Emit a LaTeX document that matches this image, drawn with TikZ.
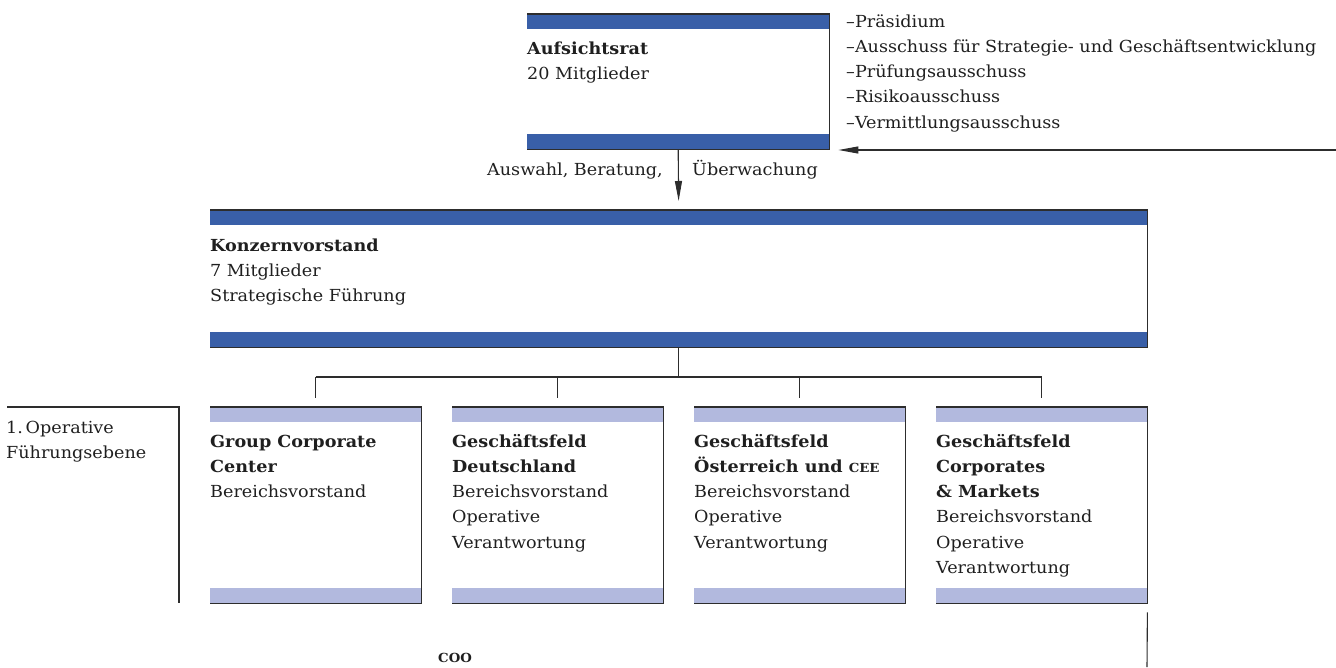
\documentclass[tikz,border=0pt]{standalone}
\usepackage{fontspec}
\setmainfont[FakeStretch=1.06]{DejaVu Serif}
\usetikzlibrary{arrows.meta}
\definecolor{dblue}{RGB}{57,95,168}
\definecolor{lblue}{RGB}{178,185,222}
\definecolor{frm}{RGB}{45,45,45}
\newcommand\orgframe[2]{%
  \fill[#2] (#1.north west) rectangle ([yshift=-15pt]#1.north east);
  \fill[#2] ([yshift=15pt]#1.south west) rectangle (#1.south east);
  \draw[frameline] (#1.north west) -- (#1.north east) -- (#1.south east) -- (#1.south west);}
\begin{document}
\begin{tikzpicture}[x=1pt,y=-1pt,
  font=\fontsize{16.6}{25.3}\selectfont,
  boxshape/.style={rectangle, inner sep=0pt, anchor=north west},
  smallbox/.style={boxshape, minimum width=211pt, minimum height=196pt},
  txt/.style={anchor=base west, inner sep=0pt, align=left, text=black!88},
  frameline/.style={draw=frm, line width=1.3pt},
  conn/.style={draw=frm, line width=1.1pt},
  arr/.style={draw=frm, line width=1.1pt, -{Triangle[length=20pt,width=7pt]}}]
\useasboundingbox (0,0) rectangle (1336,667);

% boxes
\node[boxshape, minimum width=302pt, minimum height=135pt] (ar) at (527,14) {};
\node[boxshape, minimum width=937pt, minimum height=137pt] (kv) at (210,210) {};
\node[smallbox] (b1) at (210,407) {};
\node[smallbox] (b2) at (452,407) {};
\node[smallbox] (b3) at (694,407) {};
\node[smallbox] (b4) at (936,407) {};

\orgframe{ar}{dblue}
\orgframe{kv}{dblue}
\orgframe{b1}{lblue}
\orgframe{b2}{lblue}
\orgframe{b3}{lblue}
\orgframe{b4}{lblue}

% texts (anchored at the baseline of their last line)
\node[txt] (ar-t) at (527,79.3) {\textbf{Aufsichtsrat}\\20 Mitglieder};
\node[txt] (list) at (846,128.2) {–Präsidium\\–Ausschuss für Strategie- und Geschäftsentwicklung\\–Prüfungsausschuss\\–Risikoausschuss\\–Vermittlungsausschuss};
\node[txt, anchor=base east] (lab1) at (663,175) {Auswahl, Beratung,};
\node[txt] (lab2) at (692,175) {Überwachung};
\node[txt] (kv-t) at (210,301.6) {\textbf{Konzernvorstand}\\7 Mitglieder\\Strategische Führung};
\node[txt] (b1-t) at (210,497.6) {\textbf{Group Corporate}\\\textbf{Center}\\Bereichsvorstand};
\node[txt] (b2-t) at (452,548.2) {\textbf{Geschäftsfeld}\\\textbf{Deutschland}\\Bereichsvorstand\\Operative\\Verantwortung};
\node[txt] (b3-t) at (694,548.2) {\textbf{Geschäftsfeld}\\\textbf{Österreich und {\fontsize{12.5}{14}\selectfont CEE}}\\Bereichsvorstand\\Operative\\Verantwortung};
\node[txt] (b4-t) at (936,573.5) {\textbf{Geschäftsfeld}\\\textbf{Corporates}\\\textbf{\& Markets}\\Bereichsvorstand\\Operative\\Verantwortung};
\node[txt] (lvl) at (6,458.3) {1.\,Operative\\Führungsebene};
\node[txt] (coo) at (438,662) {\textbf{\fontsize{12.5}{14}\selectfont COO}};

% arrows
\draw[arr, shorten >=9pt] (ar.south) -- (kv.north);
\coordinate (rin) at (1336,150);
\draw[arr, shorten >=9pt] (rin) -- (rin -| ar.east);

% tree connectors
\coordinate (bus) at (0,377);
\draw[conn] (kv.south) -- (kv.south |- bus);
\draw[conn] (b1.north |- bus) -- (b4.north |- bus);
\foreach \b in {b1,b2,b3,b4}{\draw[conn, shorten >=9pt] (\b.north |- bus) -- (\b.north);}

% level bracket
\coordinate (lvlA) at (7,407);
\coordinate (lvlB) at (179,407);
\coordinate (lvlC) at (179,603);
\draw[conn] (lvlA) -- (lvlB) -- (lvlC);

% bottom line
\coordinate (bot) at (1147,667);
\draw[conn] ([yshift=-9pt]b4.south east) -- (bot);
\end{tikzpicture}
\end{document}
